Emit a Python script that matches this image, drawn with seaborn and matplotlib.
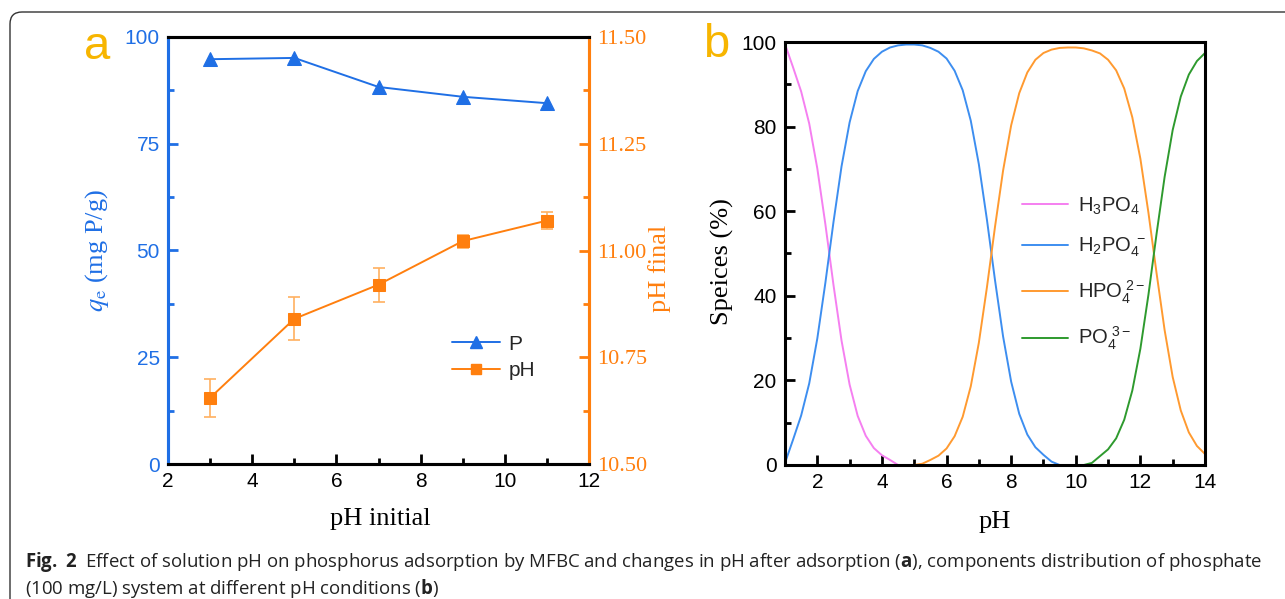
import numpy as np
import pandas as pd
import matplotlib
matplotlib.use("Agg")
import matplotlib.pyplot as plt
import seaborn as sns
from matplotlib.ticker import MultipleLocator, FormatStrFormatter
from matplotlib.patches import FancyBboxPatch
from matplotlib.lines import Line2D
from matplotlib.transforms import IdentityTransform

# ---- panel a: adsorption vs initial pH ----
ph_initial = [3, 5, 7, 9, 11]
qe_p = [94.8, 95.1, 88.3, 86.0, 84.5]
ph_final = [10.655, 10.840, 10.920, 11.022, 11.070]
ph_final_err = [0.045, 0.050, 0.040, 0.015, 0.019]

# ---- panel b: phosphate species distribution (%) ----
ph_grid = [1.00, 1.25, 1.50, 1.75, 2.00, 2.25, 2.50, 2.75, 3.00, 3.25, 3.50, 3.75,
           4.00, 4.25, 4.50, 4.75, 5.00, 5.25, 5.50, 5.75, 6.00, 6.25, 6.50, 6.75,
           7.00, 7.25, 7.50, 7.75, 8.00, 8.25, 8.50, 8.75, 9.00, 9.25, 9.50, 9.75,
           10.00, 10.25, 10.50, 10.75, 11.00, 11.25, 11.50, 11.75, 12.00, 12.25,
           12.50, 12.75, 13.00, 13.25, 13.50, 13.75, 14.00]
h3po4 = [99.5, 94.0, 88.3, 80.7, 70.1, 56.9, 42.6, 29.4, 19.0, 11.6, 6.9, 4.0,
         2.3, 1.2, 0, 0, 0, 0, 0, 0, 0, 0, 0, 0,
         0, 0, 0, 0, 0, 0, 0, 0, 0, 0, 0, 0,
         0, 0, 0, 0, 0, 0, 0, 0, 0, 0,
         0, 0, 0, 0, 0, 0, 0]
h2po4 = [0.5, 6.0, 11.7, 19.3, 29.9, 43.1, 57.4, 70.6, 81.0, 88.4, 93.1, 96.0,
         97.7, 98.7, 99.2, 99.4, 99.4, 99.2, 98.6, 97.7, 96.1, 93.2, 88.6, 81.4,
         71.1, 58.0, 43.7, 30.4, 19.7, 12.1, 7.2, 4.2, 2.4, 0.8, 0, 0,
         0, 0, 0, 0, 0, 0, 0, 0, 0, 0,
         0, 0, 0, 0, 0, 0, 0]
hpo4 = [0, 0, 0, 0, 0, 0, 0, 0, 0, 0, 0, 0,
        0, 0, 0, 0, 0, 0.3, 1.2, 2.2, 3.9, 6.8, 11.4, 18.6,
        28.9, 42.0, 56.3, 69.6, 80.3, 87.9, 92.8, 95.8, 97.4, 98.2, 98.6, 98.7,
        98.7, 98.5, 98.0, 97.3, 95.8, 93.3, 89.0, 82.2, 72.4, 59.6,
        45.4, 31.9, 20.8, 12.9, 7.7, 4.5, 2.6]
po4 = [0, 0, 0, 0, 0, 0, 0, 0, 0, 0, 0, 0,
       0, 0, 0, 0, 0, 0, 0, 0, 0, 0, 0, 0,
       0, 0, 0, 0, 0, 0, 0, 0, 0, 0, 0, 0,
       0, 0, 0.5, 2.1, 3.7, 6.3, 10.7, 17.6, 27.5, 40.3,
       54.6, 68.1, 79.2, 87.1, 92.3, 95.5, 97.4]
species_labels = [r"H$_{3}$PO$_{4}$", r"H$_{2}$PO$_{4}^{\ -}$",
                  r"HPO$_{4}^{\ 2-}$", r"PO$_{4}^{\ 3-}$"]

BLUE = "#1f6fe5"
ORANGE = "#ff7f0e"
GOLD = "#f7b500"
SPEC_COLORS = ["#f57ff0", "#3d8ef0", "#ff9a30", "#2e9a2e"]

sns.set_style("white")
plt.rcParams["font.family"] = ["Liberation Sans", "DejaVu Sans"]
plt.rcParams["mathtext.fontset"] = "custom"
plt.rcParams["mathtext.rm"] = "Liberation Sans"
plt.rcParams["mathtext.it"] = "Liberation Sans:italic"
plt.rcParams["mathtext.bf"] = "Open Sans:bold"

W, H = 1285, 599
fig = plt.figure(figsize=(W / 100, H / 100), dpi=100)
fig.patch.set_facecolor("white")

def frac(x0, x1, y0, y1):
    return [x0 / W, 1 - y1 / H, (x1 - x0) / W, (y1 - y0) / H]

# ---------------- panel a ----------------
ax = fig.add_axes(frac(168, 589, 37, 464))
ax2 = ax.twinx()

sns.lineplot(x=ph_initial, y=qe_p, ax=ax, color=BLUE, marker="^", markersize=10,
             markeredgecolor=BLUE, linewidth=1.4, errorbar=None)
ax2.errorbar(ph_initial, ph_final, yerr=ph_final_err, fmt="none", ecolor="#ffb060",
             elinewidth=1.2, capsize=4, capthick=1.2)
sns.lineplot(x=ph_initial, y=ph_final, ax=ax2, color=ORANGE, marker="s", markersize=8,
             markeredgecolor=ORANGE, linewidth=1.4, errorbar=None)

ax.set_xlim(2, 12)
ax.set_ylim(0, 100)
ax2.set_ylim(10.5, 11.5)
ax.xaxis.set_major_locator(MultipleLocator(2))
ax.xaxis.set_minor_locator(MultipleLocator(1))
ax.yaxis.set_major_locator(MultipleLocator(25))
ax.yaxis.set_minor_locator(MultipleLocator(12.5))
ax2.yaxis.set_major_locator(MultipleLocator(0.25))
ax2.yaxis.set_minor_locator(MultipleLocator(0.125))
ax2.yaxis.set_major_formatter(FormatStrFormatter("%.2f"))

for a in (ax, ax2):
    for s in a.spines.values():
        s.set_linewidth(2.2)
        s.set_color("black")
ax.spines["left"].set_color(BLUE)
ax2.spines["left"].set_color(BLUE)
ax.spines["right"].set_color(ORANGE)
ax2.spines["right"].set_color(ORANGE)

ax.tick_params(axis="x", which="both", direction="in", bottom=True, top=False,
               width=2, colors="black", labelsize=15, pad=6)
ax.tick_params(axis="x", which="major", length=7)
ax.tick_params(axis="x", which="minor", length=4)
ax.tick_params(axis="y", which="both", direction="in", left=True, width=2,
               colors=BLUE, labelsize=15, pad=6)
ax.tick_params(axis="y", which="major", length=7)
ax.tick_params(axis="y", which="minor", length=4)
ax2.tick_params(axis="y", which="both", direction="in", right=True, width=2,
                colors=ORANGE, labelsize=16, pad=6)
ax2.tick_params(axis="y", which="major", length=7)
ax2.tick_params(axis="y", which="minor", length=4)
for lab in ax2.get_yticklabels():
    lab.set_family("Liberation Serif")
ax.set_xlabel("")
ax.set_ylabel("")
ax2.set_ylabel("")

handles_a = [Line2D([], [], color=BLUE, marker="^", markersize=9, lw=1.4),
             Line2D([], [], color=ORANGE, marker="s", markersize=7, lw=1.4)]
ax2.legend(handles_a, ["P", "pH"], loc="upper left", bbox_to_anchor=(0.63, 0.347),
           frameon=False, fontsize=15, handlelength=2.3, labelspacing=0.35,
           handletextpad=0.4)

fig.text(97 / W, 1 - 250 / H, r"$q_\mathrm{e}$ (mg P/g)", rotation=90, ha="center",
         va="center", color=BLUE, fontsize=19, family="Liberation Serif",
         math_fontfamily="stix")
fig.text(660 / W, 1 - 268 / H, "pH final", rotation=90, ha="center", va="center",
         color=ORANGE, fontsize=19, family="Liberation Serif")
fig.text(380 / W, 1 - 519 / H, "pH initial", ha="center", va="center",
         color="black", fontsize=19, family="Liberation Serif")
fig.text(97 / W, 1 - 47 / H, "a", ha="center", va="center", color=GOLD, fontsize=34)

# ---------------- panel b ----------------
axb = fig.add_axes(frac(785, 1205, 42, 465))
spec = pd.DataFrame({"pH": ph_grid, species_labels[0]: h3po4,
                     species_labels[1]: h2po4, species_labels[2]: hpo4,
                     species_labels[3]: po4})
spec_long = spec.melt(id_vars="pH", var_name="species", value_name="pct")
sns.lineplot(data=spec_long, x="pH", y="pct", hue="species",
             hue_order=species_labels, palette=SPEC_COLORS, ax=axb,
             linewidth=1.4, errorbar=None)

axb.set_xlim(1, 14)
axb.set_ylim(0, 100)
axb.xaxis.set_major_locator(MultipleLocator(2))
axb.xaxis.set_minor_locator(MultipleLocator(1))
axb.yaxis.set_major_locator(MultipleLocator(20))
axb.yaxis.set_minor_locator(MultipleLocator(10))
for s in axb.spines.values():
    s.set_linewidth(2.2)
    s.set_color("black")
axb.tick_params(axis="both", which="both", direction="in", width=2, colors="black",
                labelsize=15, pad=6, bottom=True, left=True, top=False, right=False)
axb.tick_params(axis="both", which="major", length=7)
axb.tick_params(axis="both", which="minor", length=4)
axb.set_xlabel("")
axb.set_ylabel("")
axb.legend(loc="upper left", bbox_to_anchor=(0.52, 0.68), frameon=False,
           fontsize=14.5, handlelength=2.3, labelspacing=0.95, handletextpad=0.5)

fig.text(722 / W, 1 - 262 / H, "Speices (%)", rotation=90, ha="center", va="center",
         color="black", fontsize=19, family="Liberation Serif")
fig.text(995 / W, 1 - 522 / H, "pH", ha="center", va="center", color="black",
         fontsize=19, family="Liberation Serif")
fig.text(716 / W, 1 - 45 / H, "b", ha="center", va="center", color=GOLD, fontsize=34)

# ---------------- caption + frame ----------------
fig.text(25 / W, 1 - 562 / H,
         r"$\mathbf{Fig.\ 2}$  Effect of solution pH on phosphorus adsorption by MFBC "
         r"and changes in pH after adsorption ($\mathbf{a}$), components distribution "
         r"of phosphate", ha="left", va="center", fontsize=13.4, family="Open Sans",
         color="#222222")
fig.text(25 / W, 1 - 588 / H,
         r"(100 mg/L) system at different pH conditions ($\mathbf{b}$)",
         ha="left", va="center", fontsize=13.4, family="Open Sans", color="#222222")

frame = FancyBboxPatch((10, -30), 1320, 30 + H - 12,
                       boxstyle="round,pad=0,rounding_size=12",
                       transform=IdentityTransform(), fill=False,
                       edgecolor="#333333", linewidth=1.0)
fig.patches.append(frame)

fig.savefig("out.png", dpi=100)
plt.close(fig)
